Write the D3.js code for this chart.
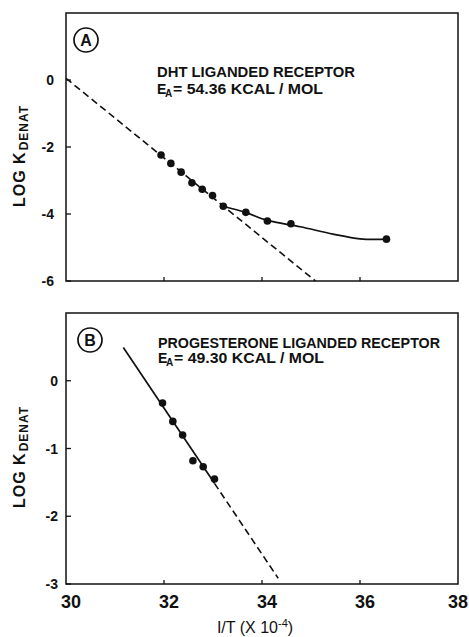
<!DOCTYPE html>
<html>
<head>
<meta charset="utf-8">
<script src="https://cdn.jsdelivr.net/npm/d3@7"></script>
<style>
  html, body { margin: 0; padding: 0; background: #fff; }
  svg { display: block; }
  text { font-family: "Liberation Sans", Arial, sans-serif; fill: #111; }
</style>
</head>
<body>
<svg id="chart" width="469" height="637"></svg>
<script>
// ---- data: 1/T (x 10^-4) and log K_denat ----
const dhtInvT   = [31.94, 32.14, 32.35, 32.57, 32.78, 32.99, 33.21, 33.67, 34.11, 34.59, 36.54];
const dhtLogK   = [-2.24, -2.49, -2.75, -3.07, -3.26, -3.45, -3.77, -3.95, -4.21, -4.29, -4.75];
// smooth curve drawn through the high 1/T points
const dhtCurveInvT = [33.21, 33.67, 34.11, 34.78, 35.45, 36.0, 36.54];
const dhtCurveLogK = [-3.77, -3.96, -4.19, -4.38, -4.60, -4.74, -4.75];
const dhtEa = 54.36;          // kcal/mol
const dhtFitStart = [30.0, 0.05];
const dhtFitEndInvT = 35.09;

const progInvT  = [31.97, 32.18, 32.38, 32.59, 32.80, 33.03];
const progLogK  = [-0.33, -0.60, -0.80, -1.18, -1.27, -1.45];
const progEa = 49.30;         // kcal/mol
const progFitStart = [31.17, 0.49];
const progSolidEndInvT = 33.03;
const progFitEndInvT = 34.33;

const xTicks  = [30, 32, 34, 36, 38];
const yTicksA = [0, -2, -4, -6];
const yTicksB = [0, -1, -2, -3];

// Arrhenius slope of log10 K vs 1/T (1/T in units of 1e-4 K^-1)
const R = 1.987e-3; // kcal/(mol K)
const arrheniusSlope = ea => -ea / (Math.LN10 * R) * 1e-4;

const svg = d3.select("#chart");
const x = d3.scaleLinear().domain([30, 38]).range([66, 458]);

function panel(cfg) {
  const y = d3.scaleLinear().domain(cfg.yDomain).range([cfg.bottom, cfg.top]);
  const g = svg.append("g");

  // frame
  g.append("rect")
    .attr("x", x(30)).attr("y", cfg.top)
    .attr("width", x(38) - x(30)).attr("height", cfg.bottom - cfg.top)
    .attr("fill", "none").attr("stroke", "#111").attr("stroke-width", 1.5);

  // inward ticks
  g.selectAll(".xt").data(xTicks.slice(1, -1)).join("line")
    .attr("x1", d => x(d)).attr("x2", d => x(d))
    .attr("y1", cfg.bottom).attr("y2", cfg.bottom - 4)
    .attr("stroke", "#111").attr("stroke-width", 1.3);
  g.selectAll(".yt").data(cfg.yTicks).join("line")
    .attr("x1", x(30)).attr("x2", x(30) + 5)
    .attr("y1", d => y(d)).attr("y2", d => y(d))
    .attr("stroke", "#111").attr("stroke-width", 1.3);

  // y tick labels
  g.selectAll(".yl").data(cfg.yTicks).join("text")
    .attr("x", cfg.yLabelRight).attr("y", d => y(d)).attr("dy", "0.36em")
    .attr("text-anchor", "end")
    .attr("font-size", 14).attr("font-weight", "bold")
    .text(d => d === 0 ? "0" : "-" + Math.abs(d));

  // y axis title: LOG K_DENAT
  const t = g.append("text")
    .attr("transform", `translate(25,${cfg.titleStart}) rotate(-90)`)
    .attr("font-size", 16).attr("font-weight", "bold")
    .attr("letter-spacing", 1);
  t.append("tspan").text("LOG K");
  t.append("tspan").attr("dy", 3).attr("dx", 1).attr("font-size", 12).text("DENAT");

  // panel letter in a circle
  g.append("circle").attr("cx", cfg.letterX).attr("cy", cfg.letterY).attr("r", 12)
    .attr("fill", "none").attr("stroke", "#111").attr("stroke-width", 1.7);
  g.append("text").attr("x", cfg.letterX).attr("y", cfg.letterY).attr("dy", "0.36em")
    .attr("text-anchor", "middle").attr("font-size", 16).attr("font-weight", "bold")
    .text(cfg.letter);

  // annotation
  g.append("text").attr("x", cfg.noteX).attr("y", cfg.noteY1)
    .attr("font-size", 14).attr("font-weight", "bold")
    .attr("textLength", cfg.note1Len).attr("lengthAdjust", "spacingAndGlyphs")
    .text(cfg.note1);
  g.append("text").attr("x", cfg.noteX).attr("y", cfg.noteY2)
    .attr("font-size", 14).attr("font-weight", "bold").text("E");
  g.append("text").attr("x", cfg.noteX + 8).attr("y", cfg.noteY2 + 3)
    .attr("font-size", 10).attr("font-weight", "bold").text("A");
  g.append("text").attr("x", cfg.noteX + 16).attr("y", cfg.noteY2)
    .attr("font-size", 14).attr("font-weight", "bold")
    .attr("textLength", cfg.note2Len).attr("lengthAdjust", "spacingAndGlyphs")
    .text(`= ${cfg.ea.toFixed(2)} KCAL / MOL`);

  return { g, y };
}

const line = (yS) => d3.line().x(d => x(d[0])).y(d => yS(d[1]));

// ---- Panel A: DHT ----
const A = panel({
  top: 13, bottom: 281, yDomain: [-6, 2], yTicks: yTicksA, yLabelRight: 54,
  titleStart: 207, letter: "A", letterX: 86, letterY: 40,
  noteX: 157, noteY1: 77, noteY2: 94,
  note1: "DHT LIGANDED RECEPTOR", note1Len: 198, note2Len: 150, ea: dhtEa
});
{
  const s = arrheniusSlope(dhtEa);
  const fit = [dhtFitStart, [dhtFitEndInvT, dhtFitStart[1] + s * (dhtFitEndInvT - dhtFitStart[0])]];
  A.g.append("path").attr("d", line(A.y)(fit))
    .attr("fill", "none").attr("stroke", "#111").attr("stroke-width", 1.6)
    .attr("stroke-dasharray", "7,4");
  const curve = dhtCurveInvT.map((v, i) => [v, dhtCurveLogK[i]]);
  A.g.append("path").attr("d", line(A.y).curve(d3.curveCatmullRom.alpha(0.5))(curve))
    .attr("fill", "none").attr("stroke", "#111").attr("stroke-width", 1.7);
  A.g.selectAll(".pt").data(dhtInvT.map((v, i) => [v, dhtLogK[i]])).join("circle")
    .attr("cx", d => x(d[0])).attr("cy", d => A.y(d[1])).attr("r", 3.8).attr("fill", "#111");
}

// ---- Panel B: progesterone ----
const B = panel({
  top: 313, bottom: 584, yDomain: [-3, 1], yTicks: yTicksB, yLabelRight: 58,
  titleStart: 508, letter: "B", letterX: 90, letterY: 340,
  noteX: 158, noteY1: 348, noteY2: 363,
  note1: "PROGESTERONE LIGANDED RECEPTOR", note1Len: 282, note2Len: 150, ea: progEa
});
{
  const s = arrheniusSlope(progEa);
  const at = v => [v, progFitStart[1] + s * (v - progFitStart[0])];
  B.g.append("path").attr("d", line(B.y)([progFitStart, at(progSolidEndInvT)]))
    .attr("fill", "none").attr("stroke", "#111").attr("stroke-width", 1.7);
  B.g.append("path").attr("d", line(B.y)([at(progSolidEndInvT), at(progFitEndInvT)]))
    .attr("fill", "none").attr("stroke", "#111").attr("stroke-width", 1.6)
    .attr("stroke-dasharray", "7,4");
  B.g.selectAll(".pt").data(progInvT.map((v, i) => [v, progLogK[i]])).join("circle")
    .attr("cx", d => x(d[0])).attr("cy", d => B.y(d[1])).attr("r", 3.8).attr("fill", "#111");
}

// shared x tick labels (kept inside the right edge) and title
svg.selectAll(".xl").data(xTicks).join("text")
  .attr("x", d => Math.min(x(d) + 5, 458)).attr("y", 608)
  .attr("text-anchor", "middle").attr("font-size", 18).attr("font-weight", "bold")
  .text(d => d);

const xt = svg.append("text").attr("x", 255).attr("y", 633)
  .attr("text-anchor", "middle").attr("font-size", 16);
xt.append("tspan").text("I/T (X 10");
xt.append("tspan").attr("dy", -6).attr("font-size", 11).text("-4");
xt.append("tspan").attr("dy", 6).text(")");
</script>
</body>
</html>
